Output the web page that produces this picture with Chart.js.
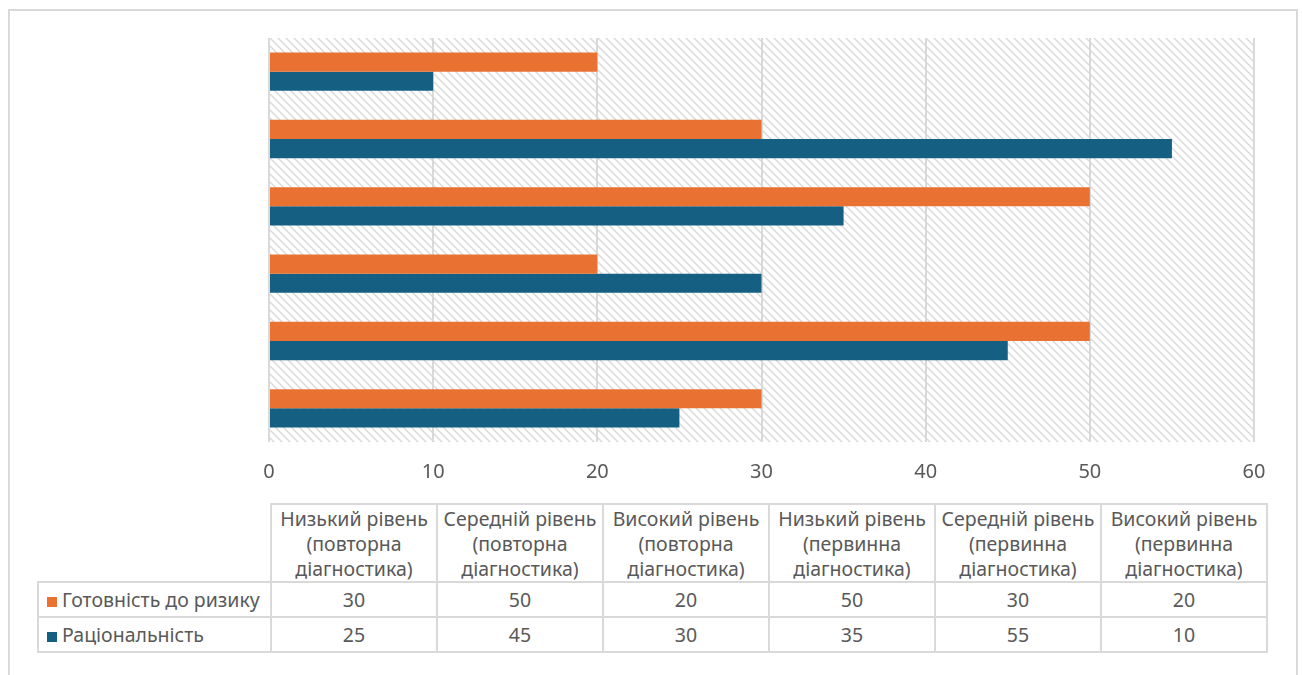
<!DOCTYPE html>
<html>
<head>
<meta charset="utf-8">
<script src="https://cdn.jsdelivr.net/npm/chart.js@4/dist/chart.umd.min.js"></script>
<style>
    body { margin: 0; background: #fff; font-family: "Noto Sans", sans-serif; }
    #frame { position: absolute; left: 8px; top: 9px; width: 1286px; height: 700px; border: 2px solid #d9d9d9; }
    #wrap { position: absolute; left: 0; top: 0; width: 1302px; height: 502px; }
    #dataTable { position: absolute; left: 37px; top: 503px; border-collapse: collapse; color: #595959; font-size: 19.5px; }
    #dataTable td { border: 2px solid #d9d9d9; text-align: center; padding: 0; white-space: nowrap; }
    #dataTable td.corner { border: none; }
    #dataTable tr.head td { height: 76px; line-height: 25px; }
    #dataTable tr.row td { height: 33px; }
    #dataTable td.label { text-align: left; padding-left: 8px; width: 223px; }
    #dataTable td.col { width: 164px; }
    .key { display: inline-block; width: 10px; height: 10px; margin-right: 5px; }
</style>
</head>
<body>
<div id="frame"></div>
<div id="wrap"><canvas id="riskChart"></canvas></div>
<table id="dataTable"></table>
<script>
// categories in table order (first one is drawn at the bottom)
const categories = [
    ['Низький рівень', '(повторна', 'діагностика)'],
    ['Середній рівень', '(повторна', 'діагностика)'],
    ['Високий рівень', '(повторна', 'діагностика)'],
    ['Низький рівень', '(первинна', 'діагностика)'],
    ['Середній рівень', '(первинна', 'діагностика)'],
    ['Високий рівень', '(первинна', 'діагностика)']
];
const seriesNames = ['Готовність до ризику', 'Раціональність'];
const readiness = [30, 50, 20, 50, 30, 20];
const rationality = [25, 45, 30, 35, 55, 10];
const seriesColors = ['#E97132', '#156082'];
const xTicks = [0, 10, 20, 30, 40, 50, 60];

document.addEventListener('DOMContentLoaded', function() {
    buildChart();
    buildTable();
});

function makeHatch() {
    const c = document.createElement('canvas');
    c.width = 8;
    c.height = 8;
    const g = c.getContext('2d');
    g.strokeStyle = '#dadada';
    g.lineWidth = 1.5;
    g.beginPath();
    g.moveTo(-1, -1); g.lineTo(9, 9);
    g.moveTo(-1, 7); g.lineTo(1, 9);
    g.moveTo(7, -1); g.lineTo(9, 1);
    g.stroke();
    return g.createPattern(c, 'repeat');
}

const hatchBackground = {
    id: 'hatchBackground',
    beforeDraw(chart) {
        const a = chart.chartArea;
        const ctx = chart.ctx;
        ctx.save();
        ctx.fillStyle = makeHatch();
        ctx.fillRect(a.left, a.top, a.right - a.left, a.bottom - a.top);
        ctx.restore();
    }
};

function buildChart() {
    const ctx = document.getElementById('riskChart').getContext('2d');
    new Chart(ctx, {
        type: 'bar',
        data: {
            labels: categories.map(c => c.join(' ')),
            datasets: [
                { label: seriesNames[0], data: readiness, backgroundColor: seriesColors[0] },
                { label: seriesNames[1], data: rationality, backgroundColor: seriesColors[1] }
            ]
        },
        options: {
            indexAxis: 'y',
            responsive: true,
            maintainAspectRatio: false,
            animation: false,
            layout: { padding: { left: 269, right: 48, top: 38, bottom: 0 } },
            datasets: { bar: { categoryPercentage: 0.57, barPercentage: 1 } },
            plugins: { legend: { display: false }, tooltip: { enabled: false } },
            scales: {
                x: {
                    min: 0,
                    max: 60,
                    afterBuildTicks: axis => { axis.ticks = xTicks.map(v => ({ value: v })); },
                    grid: { color: '#d9d9d9', lineWidth: 2, drawTicks: false },
                    border: { display: false },
                    ticks: { color: '#595959', font: { family: 'Noto Sans', size: 20 }, padding: 18 }
                },
                y: {
                    reverse: true,
                    display: false
                }
            }
        },
        plugins: [hatchBackground]
    });
}

function buildTable() {
    const table = document.getElementById('dataTable');
    let head = '<tr class="head"><td class="corner"></td>';
    categories.forEach(c => { head += '<td class="col">' + c.join('<br>') + '</td>'; });
    head += '</tr>';
    let rows = '';
    [readiness, rationality].forEach((vals, i) => {
        rows += '<tr class="row"><td class="label"><span class="key" style="background:' + seriesColors[i] + '"></span>' + seriesNames[i] + '</td>';
        vals.forEach(v => { rows += '<td>' + v + '</td>'; });
        rows += '</tr>';
    });
    table.innerHTML = head + rows;
}
</script>
</body>
</html>
